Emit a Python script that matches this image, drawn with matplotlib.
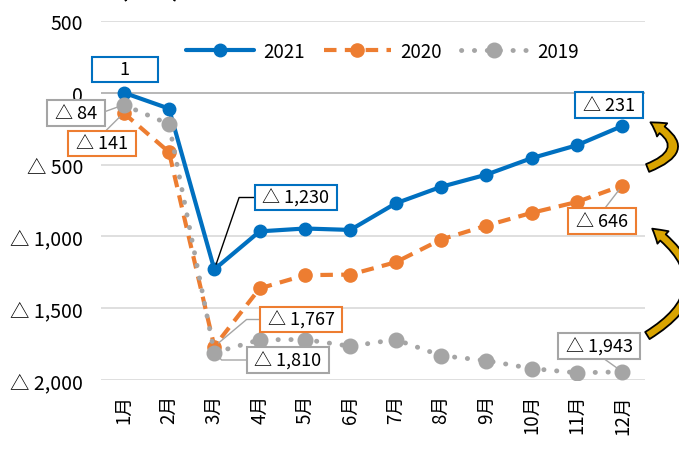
import matplotlib
matplotlib.use("Agg")
import matplotlib.pyplot as plt
from matplotlib.patches import FancyArrowPatch

plt.rcParams['font.family'] = ['Noto Sans CJK JP', 'DejaVu Sans']

months = ["1月", "2月", "3月", "4月", "5月", "6月", "7月", "8月", "9月", "10月", "11月", "12月"]
y2021 = [1, -110, -1230, -965, -945, -955, -770, -655, -570, -455, -365, -231]
y2020 = [-141, -413, -1767, -1362, -1270, -1266, -1180, -1022, -925, -836, -760, -646]
y2019 = [-84, -218, -1810, -1720, -1718, -1765, -1718, -1830, -1865, -1920, -1950, -1943]
yticks = [500, 0, -500, -1000, -1500, -2000]
unit_label = "(億円)"

BLUE = "#0070C0"
ORANGE = "#ED7D31"
GRAY = "#A5A5A5"
GOLD = "#D9A400"


def fmt(v):
    return f"△ {abs(v):,}" if v < 0 else f"{v:,}"


W, H = 679, 456
fig = plt.figure(figsize=(W / 100, H / 100), dpi=100)
ax = fig.add_axes([101 / W, 1 - 381 / H, 544 / W, 359 / H])

x = list(range(len(months)))
ax.plot(x, y2021, color=BLUE, lw=3, marker='o', ms=9, label="2021", zorder=3,
        solid_capstyle='round')
ax.plot(x, y2020, color=ORANGE, lw=3, ls=(0, (3, 2)), marker='o', ms=9.5, label="2020", zorder=4)
ax.plot(x, y2019, color=GRAY, lw=3.5, ls=(0, (0.05, 2.6)), dash_capstyle='round',
        marker='o', ms=10.5, label="2019", zorder=5)

ax.set_xlim(-0.5, len(months) - 0.5)
ax.set_ylim(-2000, 500)
ax.set_yticks(yticks)
ax.set_yticklabels([fmt(v) for v in yticks])
ax.set_xticks(x)
ax.set_xticklabels(months, rotation=90, va='top', ha='center')
ax.tick_params(axis='y', length=0, pad=13, labelsize=14)
ax.tick_params(axis='x', length=0, pad=10, labelsize=13.5)
for s in ax.spines.values():
    s.set_visible(False)
ax.grid(axis='y', color='#D9D9D9', lw=1.2, zorder=0)
ax.axhline(0, color='black', lw=1.3, zorder=1)

leg = ax.legend(loc='center', bbox_to_anchor=(0.518, 0.916), ncol=3, frameon=False,
                fontsize=13.5, handlelength=3.6, columnspacing=1.0, handletextpad=0.5)

# data labels
def label(series, i, color, cx, cy, lw_line=None, lcolor=GRAY, relpos=(0.5, 0.5), cs="arc3", pad_txt=" "):
    txt = pad_txt + fmt(series[i]) + pad_txt
    ap = None
    if lw_line:
        ap = dict(arrowstyle='-', color=lcolor, lw=lw_line, relpos=relpos,
                  connectionstyle=cs, shrinkA=0, shrinkB=4)
    ax.annotate(txt, xy=(i, series[i]), xytext=(cx, H - cy), textcoords='figure pixels',
                ha='center', va='center', fontsize=13,
                bbox=dict(boxstyle='square,pad=0.2', fc='white', ec=color, lw=1.5),
                arrowprops=ap, zorder=10)

label(y2021, 0, BLUE, 125, 70.5, pad_txt="      ")
label(y2019, 0, GRAY, 76, 114, lw_line=1, relpos=(1, 0.5))
label(y2020, 0, ORANGE, 102, 144.5, lw_line=1, relpos=(0.5, 1))
label(y2021, 2, BLUE, 296, 198.5, lw_line=1, lcolor='black', relpos=(0, 0.5),
      cs="angle,angleA=180,angleB=71,rad=0")
label(y2020, 2, ORANGE, 301, 320.5, lw_line=1, relpos=(0, 0.5),
      cs="angle,angleA=180,angleB=40,rad=0")
label(y2019, 2, GRAY, 288, 361, lw_line=1, relpos=(0, 0.5),
      cs="angle,angleA=180,angleB=-45,rad=0")
label(y2021, 11, BLUE, 609, 106)
label(y2020, 11, ORANGE, 602, 222, lw_line=1, relpos=(0.5, 1))
label(y2019, 11, GRAY, 599, 347, lw_line=1, relpos=(0.5, 0))

# unit label (cut off at top, as in the reference)
fig.text(150 / W, 1.0 + 3 / H, unit_label, ha='center', va='baseline', fontsize=16, fontweight='bold')

# curved gold arrows
def fp(px, py):
    return (px, H - py)

a1 = FancyArrowPatch(fp(645, 170), fp(648, 122), connectionstyle="arc3,rad=1.1",
                     arrowstyle="simple,head_width=12,head_length=10,tail_width=6",
                     fc=GOLD, ec='black', lw=1.3, transform=None, clip_on=False, zorder=20)
a2 = FancyArrowPatch(fp(645, 338), fp(650, 228), connectionstyle="arc3,rad=0.75",
                     arrowstyle="simple,head_width=12,head_length=10,tail_width=6",
                     fc=GOLD, ec='black', lw=1.3, transform=None, clip_on=False, zorder=20)
fig.patches.extend([a1, a2])

fig.savefig("out.png", dpi=100)
